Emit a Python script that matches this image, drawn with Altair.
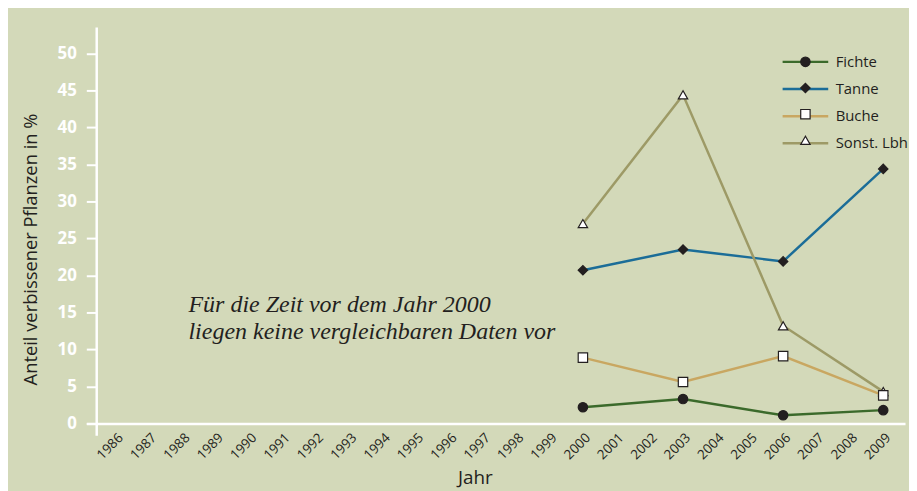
import altair as alt
import pandas as pd

# ---- data ----
species = ["Fichte", "Tanne", "Buche", "Sonst. Lbh"]
years = [2000, 2003, 2006, 2009]
fichte = [2.2, 3.3, 1.1, 1.8]
tanne = [20.7, 23.5, 21.9, 34.4]
buche = [8.9, 5.6, 9.1, 3.8]
sonst = [27.0, 44.4, 13.2, 4.3]
year_ticks = list(range(1986, 2010))
y_ticks = list(range(0, 55, 5))
note_lines = ["Für die Zeit vor dem Jahr 2000", "liegen keine vergleichbaren Daten vor"]
note_pos = [1988.18, 15.0]

# ---- styles ----
line_colors = ["#3b6a2b", "#1b6d98", "#c9a761", "#9d9a66"]
marker_shapes = ["circle", "diamond", "square", "triangle-up"]
marker_fills = ["#231f20", "#231f20", "#ffffff", "#ffffff"]
dark = "#231f20"
marker_strokes = [dark, dark, dark, dark]
bg = "#d3d9b9"

# marker key: same order as species, kept distinct from the line legend's domain
marker_keys = [f"{i + 1} {s}" for i, s in enumerate(species)]
key_of = dict(zip(species, marker_keys))

series = {"Fichte": fichte, "Tanne": tanne, "Buche": buche, "Sonst. Lbh": sonst}
rows = []
for art in ["Fichte", "Tanne", "Sonst. Lbh", "Buche"]:
    for yr, v in zip(years, series[art]):
        rows.append({"Jahr": yr, "Wert": v, "Art": art, "Key": key_of[art]})
df = pd.DataFrame(rows)

xscale = alt.Scale(domain=[1985.119, 2009.653], nice=False, zero=False)
yscale = alt.Scale(domain=[-1.607, 53.576], nice=False, zero=False)

xaxis = alt.Axis(
    values=year_ticks, format="d", labelAngle=-45, labelAlign="right", labelBaseline="top",
    labelPadding=7, labelFlush=False, labelOverlap=False, labelFont="Open Sans",
    labelFontSize=13.5, labelColor=dark, ticks=False, grid=False,
    domainColor="white", domainWidth=2.5, offset=-12,
    title="Jahr", titleFont="Open Sans", titleFontSize=19, titleFontWeight="normal",
    titleColor=dark, titleX=392, titleY=61, titleAlign="center", titleBaseline="alphabetic",
)
yaxis = alt.Axis(
    values=y_ticks, labelFont="Open Sans", labelFontSize=17, labelFontWeight="bold",
    labelColor="white", labelPadding=10, tickColor="white", tickSize=10, tickWidth=2,
    domainColor="white", domainWidth=2.5, offset=-10, grid=False,
    title="Anteil verbissener Pflanzen in %", titleFont="Open Sans", titleFontSize=18.5,
    titleFontWeight="normal", titleColor=dark, titleAngle=270, titleX=-66, titleY=224,
    titleAlign="center", titleBaseline="middle",
)

X = alt.X("Jahr:Q", scale=xscale, axis=xaxis)
Y = alt.Y("Wert:Q", scale=yscale, axis=yaxis)

LX, LY = 718, 27.7


def legend(row_pad=11.4, **kw):
    return alt.Legend(
        orient="none", legendX=LX, legendY=LY, title=None, padding=0,
        symbolSize=90, labelOffset=23, labelFont="Open Sans", labelFontSize=15,
        labelColor=dark, rowPadding=row_pad, **kw,
    )


base = alt.Chart(df)

lines = base.mark_line(strokeWidth=2.5).encode(
    x=X, y=Y,
    color=alt.Color(
        "Art:N",
        scale=alt.Scale(domain=species, range=line_colors),
        legend=legend(symbolType="M-4.85,0L4.85,0", symbolStrokeWidth=2.5),
    ),
)

marker_legend = legend(
    row_pad=10.4, symbolStrokeWidth=1.2, symbolOpacity=1, labelOpacity=0
)

points = base.mark_point(filled=True, size=90, strokeWidth=1.2, opacity=1).encode(
    x=X, y=Y,
    shape=alt.Shape("Key:N", scale=alt.Scale(domain=marker_keys, range=marker_shapes), legend=marker_legend),
    fill=alt.Fill("Key:N", scale=alt.Scale(domain=marker_keys, range=marker_fills), legend=marker_legend),
    stroke=alt.Stroke("Key:N", scale=alt.Scale(domain=marker_keys, range=marker_strokes), legend=marker_legend),
)

note_df = pd.DataFrame({"t": ["\n".join(note_lines)], "Jahr": [note_pos[0]], "Wert": [note_pos[1]]})
note = alt.Chart(note_df).mark_text(
    align="left", baseline="alphabetic", font="Liberation Serif", fontStyle="italic",
    fontSize=24.2, color=dark, lineBreak="\n", lineHeight=27,
).encode(x=X, y=Y, text="t:N")

chart = alt.layer(lines, points, note).properties(
    width=826, height=412,
    autosize=alt.AutoSizeParams(type="none"),
    padding={"left": 79, "top": 17, "right": 4, "bottom": 54},
    background=bg,
).configure_view(stroke=None)

chart.save("out.html", embed_options={"renderer": "svg", "actions": False})
